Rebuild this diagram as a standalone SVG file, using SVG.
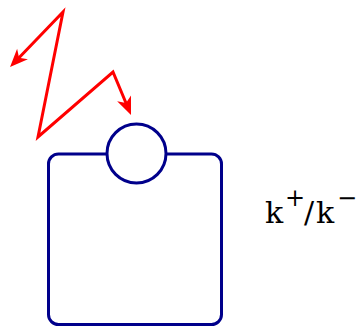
<svg xmlns="http://www.w3.org/2000/svg" width="363" height="326" viewBox="0 0 363 326">
<style>
.red{fill:none;stroke:#ff0000;stroke-width:3;stroke-linejoin:miter;stroke-miterlimit:20}
.blue{fill:#fff;stroke:#00008b;stroke-width:3}
.lbl{font-family:"DejaVu Serif","Liberation Serif",serif;fill:#000}
</style>
<defs>
<marker id="ah" markerUnits="userSpaceOnUse" orient="auto-start-reverse" refX="0" refY="0" markerWidth="30" markerHeight="30" viewBox="-15 -15 30 30" overflow="visible">
<path d="M6,0 L-12,-7.5 L-7,0 L-12,7.5 Z" fill="#ff0000"/>
</marker>
</defs>
<g id="connectors">
<path class="red" d="M14.2,62.7 L63,12 L38,137 L113,72 L128.7,109.5" marker-start="url(#ah)" marker-end="url(#ah)"/>
</g>
<g id="box">
<rect class="blue" x="48.5" y="154" width="173" height="170.5" rx="10"/>
</g>
<g id="port">
<circle class="blue" cx="136.5" cy="153.5" r="29.5"/>
</g>
<g id="label">
<text class="lbl" y="223" font-size="30"><tspan x="265">k</tspan><tspan x="285" y="206" font-size="24">+</tspan><tspan x="304" y="223">/</tspan><tspan x="316">k</tspan><tspan x="337" y="206" font-size="24">−</tspan></text>
</g>
</svg>
